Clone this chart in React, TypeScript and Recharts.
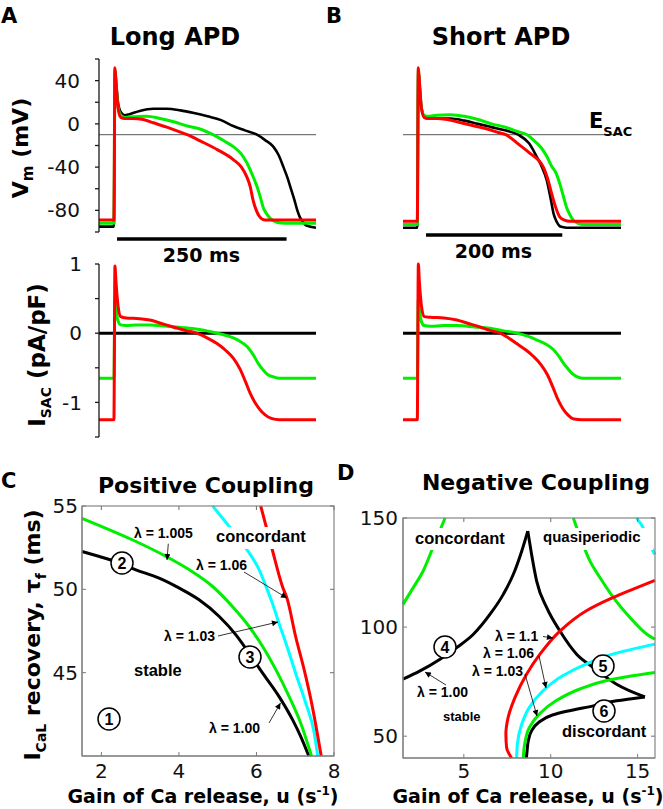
import React from 'react';
import { LineChart, Line, XAxis, YAxis, ReferenceLine } from 'recharts';

type Pts = [number, number][];

const TIME_DOMAIN: [number, number] = [0, 320];

// ---------- A: Long APD — membrane voltage (t in ms, Vm in mV)
const longVmBlack: Pts = [[0,-95],[22,-95],[23.5,50],[25,40],[28,20],[32,11],[38,8],[45,9],[60,12],[80,14],[100,14],[120,12.5],[140,10],[160,7],[180,3.5],[198,-2],[215,-6],[233,-10],[245,-15],[257,-21],[265,-29],[272,-40],[278,-50],[282,-58],[288,-70],[292,-79],[296,-86],[300,-90],[306,-94],[320,-96]];
const longVmGreen: Pts = [[0,-92],[22,-92],[23.5,50],[25,38],[28,16],[32,8],[38,6],[50,6.5],[70,7],[90,5],[110,2],[130,-2],[150,-5],[168,-10],[185,-16],[198,-21],[210,-28],[218,-36],[226,-47],[233,-58],[238,-68],[242,-77],[247,-83],[252,-87],[262,-91],[275,-92],[320,-92]];
const longVmRed: Pts = [[0,-89],[22,-89],[23.5,52],[25,40],[28,15],[32,6],[38,5],[50,5],[65,4],[80,1],[100,-3],[115,-6.5],[130,-10],[150,-16],[175,-24],[198,-33],[210,-40],[218,-49],[223,-58],[227,-70],[232,-80],[237,-86],[245,-89],[320,-89]];
// ---------- A: Long APD — I_SAC (pA/pF)
const longIsacGreen: Pts = [[0,-0.65],[22,-0.65],[23.5,0.48],[25,0.35],[28,0.18],[32,0.12],[40,0.11],[55,0.12],[75,0.12],[100,0.1],[125,0.08],[150,0.05],[174,0],[190,-0.04],[205,-0.1],[219,-0.2],[228,-0.32],[235,-0.44],[242,-0.53],[249,-0.6],[257,-0.63],[266,-0.65],[320,-0.65]];
const longIsacRed: Pts = [[0,-1.25],[22,-1.25],[23.5,0.97],[25,0.75],[28,0.4],[32,0.24],[40,0.22],[60,0.21],[75,0.19],[92,0.14],[109,0.09],[128,0.04],[144,0],[160,-0.07],[174,-0.15],[187,-0.25],[198,-0.36],[208,-0.52],[216,-0.7],[223,-0.87],[230,-1.0],[237,-1.1],[245,-1.18],[254,-1.23],[266,-1.25],[320,-1.25]];

// ---------- B: Short APD — membrane voltage
const shortVmBlack: Pts = [[0,-96],[21,-96],[22.5,50],[24,38],[27,15],[31,7],[36,5],[50,5],[70,5],[90,3],[110,0],[130,-3],[150,-6],[169,-10],[185,-18],[196,-30],[204,-40],[211,-52],[217,-70],[221,-83],[226,-91],[231,-95],[240,-96],[320,-96]];
const shortVmGreen: Pts = [[0,-93],[21,-93],[22.5,50],[24,38],[27,15],[31,8],[36,7],[50,8],[70,8.5],[90,7],[110,4],[130,0],[150,-3],[168,-7],[182,-10],[195,-17],[204,-23],[211,-30],[218,-39],[225,-46],[230,-55],[235,-66],[240,-77],[245,-84],[250,-89],[257,-92],[265,-93],[320,-93]];
const shortVmRed: Pts = [[0,-90],[21,-90],[22.5,52],[24,40],[27,15],[31,6],[36,5],[50,5],[65,4],[85,1],[105,-2],[125,-5],[140,-8],[151,-10],[170,-19],[186,-27],[206,-40],[212,-50],[218,-64],[224,-77],[230,-86],[237,-89],[245,-90],[320,-90]];
// ---------- B: Short APD — I_SAC
const shortIsacGreen: Pts = [[0,-0.65],[21,-0.65],[22.5,0.5],[24,0.35],[27,0.17],[31,0.11],[40,0.1],[60,0.11],[80,0.11],[105,0.09],[128,0.07],[150,0.03],[168,0],[185,-0.05],[197,-0.1],[210,-0.16],[221,-0.24],[230,-0.35],[236,-0.44],[241,-0.5],[248,-0.58],[256,-0.63],[265,-0.65],[320,-0.65]];
const shortIsacRed: Pts = [[0,-1.25],[21,-1.25],[22.5,1.0],[24,0.75],[27,0.4],[31,0.24],[40,0.23],[60,0.22],[79,0.19],[96,0.14],[113,0.09],[128,0.04],[143,0],[155,-0.07],[167,-0.15],[180,-0.24],[192,-0.34],[203,-0.46],[212,-0.6],[220,-0.78],[227,-0.95],[234,-1.08],[242,-1.18],[251,-1.24],[262,-1.25],[320,-1.25]];

// reference levels and scale bars (t0, t1, level)
const eSacLine: Pts = [[0,-10],[320,-10]];
const zeroLine: Pts = [[0,0],[320,0]];
const longBar = [26.6, 276.6, -106.5];
const shortBar = [33.8, 233.8, -102.8];

const vmTicks = [-100,-80,-60,-40,-20,0,20,40,60];
const vmTickLabels = [40,0,-40,-80];
const isacTicks = [-1.5,-1,-0.5,0,0.5,1];
const isacTickLabels = [1,0,-1];

// ---------- C: Positive coupling (u, tau_f)
const posLam100: Pts = [[1.5,52.27],[1.95,51.97],[2.29,51.73],[2.89,51.17],[3.49,50.67],[4.01,50.07],[4.52,49.37],[5.04,48.37],[5.47,47.27],[5.81,46.17],[6.16,44.97],[6.58,43.58],[6.93,42.18],[7.14,41.18],[7.35,40]];
const posLam1005: Pts = [[1.5,54.26],[2.12,53.66],[2.81,52.96],[3.67,51.97],[4.27,51.17],[4.87,50.17],[5.38,48.97],[5.81,47.77],[6.16,46.57],[6.5,45.18],[6.84,43.58],[7.14,41.98],[7.42,40]];
const posLam103: Pts = [[4.87,55],[5.3,53.76],[5.73,52.46],[6.07,51.17],[6.28,49.97],[6.41,49.17],[6.58,47.97],[6.76,46.77],[7.01,44.97],[7.27,43.18],[7.49,41.38],[7.58,40]];
const posLam106: Pts = [[6.11,55],[6.41,52.36],[6.67,50.17],[6.8,49.37],[7.01,47.17],[7.23,45.18],[7.44,42.98],[7.67,40]];
const posXDomain: [number, number] = [1.5, 8];
const posYDomain: [number, number] = [40, 55];
const posXTicks = [2,4,6,8];
const posYTicks = [45,50,55];

// ---------- D: Negative coupling (u, tau_f)
const negLam100Left: Pts = [[1.5,76.1],[2.48,79.9],[3.63,85.3],[4.59,90.6],[5.55,96.7],[6.51,105.9],[7.27,115],[7.85,124.2],[8.33,134.8],[8.68,144]];
const negLam100Right: Pts = [[8.68,144],[8.9,133.3],[9.19,121.1],[9.77,108.9],[10.53,98.2],[11.49,87.6],[12.45,81.5],[13.79,73.8],[15.42,68]];
const negLam100Lower: Pts = [[8.6,40],[8.64,43.3],[8.71,47.9],[8.9,52.5],[9.3,56.3],[10.1,59.7],[10.92,61.4],[12.45,63.9],[13.79,66.2],[15.42,68]];
const negLam103Low: Pts = [[8.42,40],[8.5,46.4],[8.77,54],[9.34,60.1],[10.3,66.2],[11.64,71.5],[13.17,75.4],[14.71,77.7],[16,79.2]];
const negLam103TopLeft: Pts = [[1.5,110.4],[2.09,118.1],[2.66,125.7],[3.22,136.4],[3.92,150]];
const negLam103TopRight: Pts = [[11.3,150],[11.78,139.4],[12.26,130.2],[12.84,122.6],[13.61,113.5],[14.57,104.3],[15.53,96.7],[16,94.4]];
const negLam106Low: Pts = [[8.04,40],[8.08,46.4],[8.33,55.5],[8.77,63.2],[9.54,70.7],[10.69,77.7],[12.03,83],[13.57,87.6],[14.71,89.9],[16,92.2]];
const negLam106TopRight: Pts = [[14.94,150],[15.42,144],[15.7,137.9],[16,133.3]];
const negLam110: Pts = [[7.75,40],[7.46,44.9],[7.42,51],[7.55,58.6],[7.94,67.7],[8.61,78.4],[9.38,87.6],[10.53,98.2],[12.03,107.4],[13.57,113.5],[14.71,117.3],[16,121.4]];
const negXDomain: [number, number] = [1.5, 16];
const negYDomain: [number, number] = [40, 150];
const negXTicks = [5,10,15];
const negYTicks = [50,100,150];

const RED = '#ff0000';
const GREEN = '#00ee00';
const CYAN = '#00ffff';
const BLACK = '#000000';
const FRAME = '#7a7a7a';
const DJ = "'DejaVu Sans', sans-serif";
const LS = "'Liberation Sans', Arial, sans-serif";

// plot-box layout of the two parameter-space panels
const C_BOX = { x: 82, y: 506, w: 252, h: 250 };
const D_BOX = { x: 403, y: 518, w: 252, h: 240 };

const tv = (a: Pts) => a.map(([t, v]) => ({ t, v }));
const ut = (a: Pts) => a.map(([u, tau]) => ({ u, tau }));

type LineSpec = { data: Pts; color: string; width: number; type?: any };
type Box = { x: number; y: number; w: number; h: number };

function TracePanel(props: {
  x: number; y: number; w: number; h: number; axis: boolean;
  yDomain: [number, number]; yTicks: number[]; yLabels: number[]; tickMargin: number;
  lines: LineSpec[]; bar?: number[];
}) {
  const { x, y, w, h, axis, yDomain, yTicks, yLabels, tickMargin, lines, bar } = props;
  const mt = 15, mb = 15, mr = 5;
  const ml = axis ? 0 : 5;
  const yw = axis ? x : 0;
  const left = axis ? 0 : x - 5;
  return (
    <div style={{ position: 'absolute', left, top: y - mt }}>
      <LineChart width={ml + yw + w + mr} height={mt + h + mb} margin={{ top: mt, right: mr, bottom: mb, left: ml }}>
        <XAxis type="number" dataKey="t" domain={TIME_DOMAIN} hide />
        <YAxis
          type="number"
          domain={yDomain}
          hide={!axis}
          width={yw}
          ticks={yTicks}
          interval={0}
          tickFormatter={(v: number) => (yLabels.includes(v) ? String(v) : '')}
          tickSize={4}
          tickMargin={tickMargin}
          axisLine={{ stroke: '#1a1a1a', strokeWidth: 1.3 }}
          tickLine={{ stroke: '#1a1a1a', strokeWidth: 1.3 }}
          tick={{ fontSize: 20, fontFamily: DJ, fill: '#111' }}
        />
        {lines.map((l, i) => (
          <Line key={i} data={tv(l.data)} dataKey="v" type={l.type ?? 'monotone'} stroke={l.color} strokeWidth={l.width} dot={false} isAnimationActive={false} />
        ))}
        {bar && (
          <ReferenceLine segment={[{ x: bar[0], y: bar[2] }, { x: bar[1], y: bar[2] }]} stroke="#000" strokeWidth={3.5} ifOverflow="visible" />
        )}
      </LineChart>
    </div>
  );
}

function PhasePanel(props: {
  box: Box; yw: number;
  xDomain: [number, number]; yDomain: [number, number];
  xTicks: number[]; yTicks: number[]; xMargin: number; yMargin: number;
  lines: LineSpec[];
}) {
  const { box, yw, xDomain, yDomain, xTicks, yTicks, xMargin, yMargin, lines } = props;
  const tickStyle = { fontSize: 20, fontFamily: DJ, fill: '#111' };
  const mt = 15;
  return (
    <div style={{ position: 'absolute', left: box.x - yw, top: box.y - mt }}>
      <LineChart width={yw + box.w + 10} height={mt + box.h + 30} margin={{ top: mt, right: 10, bottom: 0, left: 0 }}>
        <XAxis type="number" dataKey="u" domain={xDomain} ticks={xTicks} interval={0} height={30}
          tickSize={-4} tickMargin={xMargin} stroke={FRAME} tick={tickStyle} />
        <YAxis type="number" domain={yDomain} ticks={yTicks} interval={0} width={yw}
          tickSize={-4} tickMargin={yMargin} stroke={FRAME} tick={tickStyle} />
        {lines.map((l, i) => (
          <Line key={i} data={ut(l.data)} dataKey="tau" type={l.type ?? 'monotone'} stroke={l.color} strokeWidth={l.width} dot={false} isAnimationActive={false} />
        ))}
      </LineChart>
    </div>
  );
}

// box outline with inward ticks on top and right edges (matches the panel's axes)
const BoxFrame = ({ box, xDomain, yDomain, xTicks, yTicks }: { box: Box; xDomain: [number, number]; yDomain: [number, number]; xTicks: number[]; yTicks: number[] }) => {
  const sx = (v: number) => box.x + ((v - xDomain[0]) / (xDomain[1] - xDomain[0])) * box.w;
  const sy = (v: number) => box.y + ((yDomain[1] - v) / (yDomain[1] - yDomain[0])) * box.h;
  return (
    <g stroke={FRAME} strokeWidth={1.1} fill="none">
      <rect x={box.x} y={box.y} width={box.w} height={box.h} />
      {xTicks.map((t) => <line key={'x' + t} x1={sx(t)} x2={sx(t)} y1={box.y} y2={box.y + 4} />)}
      {yTicks.map((t) => <line key={'y' + t} x1={box.x + box.w - 4} x2={box.x + box.w} y1={sy(t)} y2={sy(t)} />)}
    </g>
  );
};

const Circled = ({ cx, cy, n }: { cx: number; cy: number; n: string }) => (
  <g>
    <circle cx={cx} cy={cy} r={11} fill="#fff" stroke="#000" strokeWidth={1.5} />
    <text x={cx} y={cy + 5.5} textAnchor="middle" fontSize={16} fontFamily={LS} fontWeight="bold">{n}</text>
  </g>
);

const Arrow = ({ x1, y1, x2, y2 }: { x1: number; y1: number; x2: number; y2: number }) => (
  <line x1={x1} y1={y1} x2={x2} y2={y2} stroke="#000" strokeWidth={0.8} markerEnd="url(#ah)" />
);

const Anno = ({ x, y, s, size = 14 }: { x: number; y: number; s: string; size?: number }) => (
  <text x={x} y={y} fontSize={size} fontFamily={LS} fontWeight="bold" fill="#000">{s}</text>
);

export default function App() {
  return (
    <div style={{ position: 'absolute', left: 0, top: 0, width: 663, height: 809, background: '#fff', overflow: 'hidden' }}>
      {/* A top */}
      <TracePanel x={99} y={59} w={217} h={173} axis yDomain={[-100, 60]} yTicks={vmTicks} yLabels={vmTickLabels} tickMargin={15}
        lines={[
          { data: eSacLine, color: '#555', width: 1, type: 'linear' },
          { data: longVmBlack, color: BLACK, width: 2.6 },
          { data: longVmGreen, color: GREEN, width: 3 },
          { data: longVmRed, color: RED, width: 3 },
        ]}
        bar={longBar} />
      {/* A bottom */}
      <TracePanel x={99} y={264} w={217} h={173} axis yDomain={[-1.5, 1]} yTicks={isacTicks} yLabels={isacTickLabels} tickMargin={13}
        lines={[
          { data: zeroLine, color: BLACK, width: 3, type: 'linear' },
          { data: longIsacGreen, color: GREEN, width: 3 },
          { data: longIsacRed, color: RED, width: 3 },
        ]} />
      {/* B top */}
      <TracePanel x={403} y={59} w={218} h={173} axis={false} yDomain={[-100, 60]} yTicks={vmTicks} yLabels={[]} tickMargin={0}
        lines={[
          { data: eSacLine, color: '#555', width: 1, type: 'linear' },
          { data: shortVmBlack, color: BLACK, width: 2.6 },
          { data: shortVmGreen, color: GREEN, width: 3 },
          { data: shortVmRed, color: RED, width: 3 },
        ]}
        bar={shortBar} />
      {/* B bottom */}
      <TracePanel x={403} y={264} w={218} h={173} axis={false} yDomain={[-1.5, 1]} yTicks={isacTicks} yLabels={[]} tickMargin={0}
        lines={[
          { data: zeroLine, color: BLACK, width: 3, type: 'linear' },
          { data: shortIsacGreen, color: GREEN, width: 3 },
          { data: shortIsacRed, color: RED, width: 3 },
        ]} />
      {/* C */}
      <PhasePanel box={C_BOX} yw={82} xDomain={posXDomain} yDomain={posYDomain}
        xTicks={posXTicks} yTicks={posYTicks} xMargin={12} yMargin={8}
        lines={[
          { data: posLam100, color: BLACK, width: 3 },
          { data: posLam1005, color: GREEN, width: 3 },
          { data: posLam103, color: CYAN, width: 3 },
          { data: posLam106, color: RED, width: 3 },
        ]} />
      {/* D */}
      <PhasePanel box={D_BOX} yw={63} xDomain={negXDomain} yDomain={negYDomain}
        xTicks={negXTicks} yTicks={negYTicks} xMargin={10} yMargin={9}
        lines={[
          { data: negLam103TopLeft, color: GREEN, width: 3 },
          { data: negLam103TopRight, color: GREEN, width: 3 },
          { data: negLam106TopRight, color: CYAN, width: 3 },
          { data: negLam100Left, color: BLACK, width: 3 },
          { data: negLam100Right, color: BLACK, width: 3 },
          { data: negLam100Lower, color: BLACK, width: 3, type: 'monotoneY' },
          { data: negLam103Low, color: GREEN, width: 3, type: 'monotoneY' },
          { data: negLam106Low, color: CYAN, width: 3, type: 'monotoneY' },
          { data: negLam110, color: RED, width: 3, type: 'monotoneY' },
        ]} />

      <svg width={663} height={809} style={{ position: 'absolute', left: 0, top: 0, pointerEvents: 'none' }}>
        <defs>
          <marker id="ah" viewBox="0 0 10 10" refX="10" refY="5" markerUnits="userSpaceOnUse" markerWidth="7" markerHeight="6" orient="auto">
            <path d="M0,0 L10,5 L0,10 z" fill="#000" />
          </marker>
        </defs>

        <BoxFrame box={C_BOX} xDomain={posXDomain} yDomain={posYDomain} xTicks={posXTicks} yTicks={posYTicks} />
        <BoxFrame box={D_BOX} xDomain={negXDomain} yDomain={negYDomain} xTicks={negXTicks} yTicks={negYTicks} />

        {/* panel letters and titles */}
        <g fontFamily={DJ} fontWeight="bold" fill="#000">
          <text x={1} y={23} fontSize={21}>A</text>
          <text x={326} y={23} fontSize={21}>B</text>
          <text x={1} y={488} fontSize={21}>C</text>
          <text x={337} y={480} fontSize={21}>D</text>
          <text x={175} y={45} fontSize={24} textAnchor="middle">Long APD</text>
          <text x={501} y={45} fontSize={24} textAnchor="middle">Short APD</text>
          <text x={206} y={493} fontSize={22} textAnchor="middle">Positive Coupling</text>
          <text x={536} y={490} fontSize={22} textAnchor="middle">Negative Coupling</text>
          <text x={201.5} y={262} fontSize={19} textAnchor="middle">250 ms</text>
          <text x={493.5} y={258} fontSize={19} textAnchor="middle">200 ms</text>
          <text x={589} y={128} fontSize={21}>E<tspan fontSize={13} dy={8}>SAC</tspan></text>

          <text transform="translate(28,148) rotate(-90)" fontSize={22} textAnchor="middle">
            V<tspan fontSize={15} dy={5}>m</tspan><tspan dy={-5}>{' (mV)'}</tspan>
          </text>
          <text transform="translate(45,355) rotate(-90)" fontSize={23} textAnchor="middle">
            I<tspan fontSize={14} dy={6}>SAC</tspan><tspan dy={-6}>{' (pA/pF)'}</tspan>
          </text>
          <text transform="translate(40,635) rotate(-90)" fontSize={22} textAnchor="middle">
            I<tspan fontSize={14} dy={6}>CaL</tspan><tspan dy={-6}>{' recovery, τ'}</tspan><tspan fontSize={14} dy={6}>f</tspan><tspan dy={-6}>{' (ms)'}</tspan>
          </text>
          <text x={203} y={803} fontSize={19} textAnchor="middle">
            Gain of Ca release, u (s<tspan fontSize={12} dy={-8}>-1</tspan><tspan dy={8}>)</tspan>
          </text>
          <text x={528} y={803} fontSize={19} textAnchor="middle">
            Gain of Ca release, u (s<tspan fontSize={12} dy={-8}>-1</tspan><tspan dy={8}>)</tspan>
          </text>
        </g>

        {/* C annotations */}
        <rect x={211} y={527} width={100} height={22} fill="#fff" />
        <Anno x={216} y={542} s="concordant" size={16.5} />
        <Anno x={134} y={538} s="λ = 1.005" />
        <Arrow x1={168.3} y1={543.7} x2={167} y2={560} />
        <Anno x={196} y={570} s="λ = 1.06" />
        <Arrow x1={244} y1={572} x2={287} y2={598} />
        <Anno x={164} y={641} s="λ = 1.03" />
        <Arrow x1={218} y1={636} x2={278} y2={622} />
        <Anno x={134} y={676} s="stable" size={16.5} />
        <Anno x={209} y={733} s="λ = 1.00" />
        <Arrow x1={269} y1={723} x2={280.5} y2={703} />
        <Circled cx={109} cy={719} n="1" />
        <Circled cx={122} cy={563} n="2" />
        <Circled cx={250} cy={657} n="3" />

        {/* D annotations */}
        <rect x={411} y={528} width={99} height={22} fill="#fff" />
        <Anno x={415} y={544} s="concordant" size={16.5} />
        <rect x={538} y={528} width={115} height={22} fill="#fff" />
        <Anno x={543} y={542} s="quasiperiodic" size={15} />
        <Anno x={417} y={697} s="λ = 1.00" />
        <Arrow x1={446} y1={685} x2={425} y2={672} />
        <Anno x={443} y={721} s="stable" size={13} />
        <Anno x={495} y={641} s="λ = 1.1" />
        <Arrow x1={543} y1={636.5} x2={553} y2={638} />
        <Anno x={483} y={658} s="λ = 1.06" />
        <Arrow x1={539} y1={656} x2={546} y2={688} />
        <Anno x={472} y={676} s="λ = 1.03" />
        <Arrow x1={525} y1={674} x2={537} y2={716} />
        <Anno x={562} y={737} s="discordant" size={16.5} />
        <Circled cx={445} cy={647} n="4" />
        <Circled cx={603} cy={666} n="5" />
        <Circled cx={604} cy={711} n="6" />
      </svg>
    </div>
  );
}
